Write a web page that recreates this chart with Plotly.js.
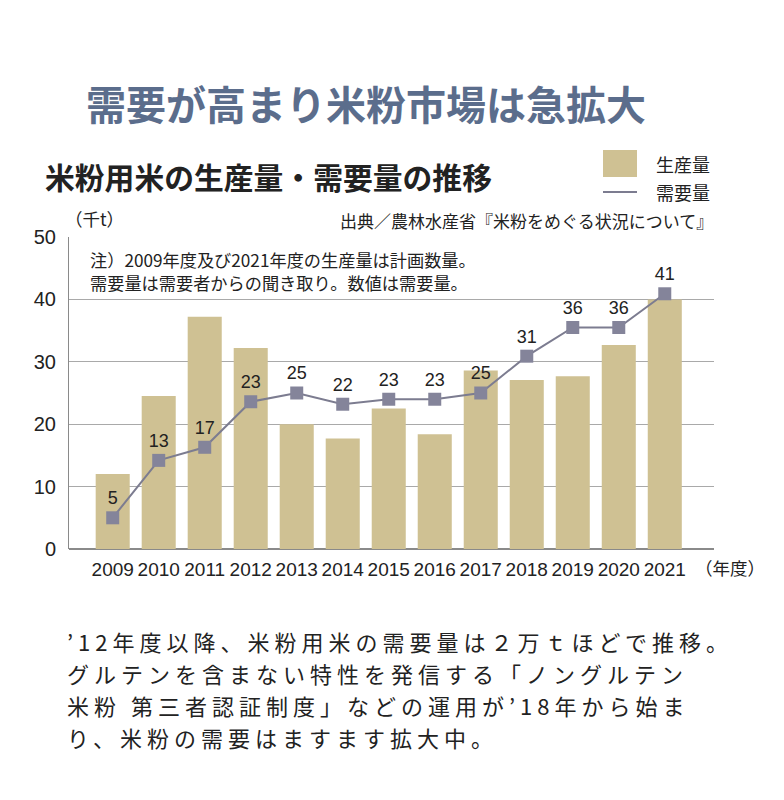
<!DOCTYPE html>
<html><head><meta charset="utf-8">
<script src="https://cdn.plot.ly/plotly-3.0.1.min.js"></script>
<style>body{margin:0;background:#fff}#c{width:784px;height:800px}</style>
</head><body><div id="c"></div>
<script>
const years = ['2009','2010','2011','2012','2013','2014','2015','2016','2017','2018','2019','2020','2021'];
const production = [12.0,24.5,37.2,32.2,20.0,17.7,22.5,18.4,28.6,27.1,27.7,32.7,40.0];
const demand = [5.0,14.2,16.3,23.6,25.0,23.2,24.0,24.0,25.0,30.9,35.5,35.5,40.9];
const demandLabels = ['5','13','17','23','25','22','23','23','25','31','36','36','41'];
const yTicks = [0,10,20,30,40,50];
const paragraphLines = [
 "’12年度以降、米粉用米の需要量は２万ｔほどで推移。",
 "グルテンを含まない特性を発信する「ノングルテン",
 "米粉 第三者認証制度」などの運用が’18年から始ま",
 "り、米粉の需要はますます拡大中。"
];

const W=784,H=800,L=69,R=714,T=237,B=549;
const px=x=>(x-L)/(R-L), py=y=>(B-y)/(B-T);
const jp='"Noto Sans CJK JP", sans-serif';
const num='"Liberation Sans Narrow","Liberation Sans",Arial,sans-serif';
const barColor='#cfc193', lineColor='#7c7c90', markColor='#84849a';

const traces=[
 {type:'bar',x:years,y:production,marker:{color:barColor},hoverinfo:'skip',showlegend:false},
 {type:'scatter',mode:'lines+markers+text',x:years,y:demand,text:demandLabels,textposition:'top center',
  textfont:{family:'"Liberation Sans",Arial,sans-serif',size:18,color:'#222'},
  line:{color:lineColor,width:2},marker:{symbol:'square',size:13,color:markColor},showlegend:false,cliponaxis:false}
];
function ann(x,y,text,size,opts){return Object.assign({xref:'paper',yref:'paper',x:px(x),y:py(y),text:text,showarrow:false,
 font:{family:jp,size:size,color:'#222'},xanchor:'left',yanchor:'middle'},opts||{});}
const paraText = paragraphLines.map(s=>'<span style="font-size:22px;letter-spacing:5px">'+s+'</span>').join('<br>');
const annotations=[
 ann(84,103,'<b>需要が高まり米粉市場は急拡大</b>',40,{font:{family:jp,size:40,color:'#5b6d8c'}}),
 ann(43,176,'<b>米粉用米の生産量・需要量の推移</b>',29.8),
 ann(654,164,'生産量',18),
 ann(654,192,'需要量',18),
 ann(63,218,'（千t）',17.5),
 ann(715,220,'出典／農林水産省『米粉をめぐる状況について』',17,{xanchor:'right'}),
 ann(88,259,'注）2009年度及び2021年度の生産量は計画数量。',17.2),
 ann(88,282,'需要量は需要者からの聞き取り。数値は需要量。',17.2),
 ann(693,567,'（年度）',17.5),
 ann(65,689,paraText,24.6,{align:'left'})
];
const shapes=[
 {type:'rect',xref:'paper',yref:'paper',x0:px(603),x1:px(637),y0:py(150),y1:py(177),fillcolor:barColor,line:{width:0}},
 {type:'line',xref:'paper',yref:'paper',x0:px(603),x1:px(637),y0:py(192),y1:py(192),line:{color:lineColor,width:2}}
];
const layout={width:W,height:H,margin:{l:L,r:W-R,t:T,b:H-B,pad:0},paper_bgcolor:'#fff',plot_bgcolor:'#fff',
 bargap:0.26,
 xaxis:{type:'category',range:[-0.95,13.07],showgrid:false,showline:false,zeroline:false,ticks:'',
   tickfont:{family:num,size:19,color:'#222'},ticklabelstandoff:7},
 yaxis:{range:[0,50],tickvals:yTicks,showgrid:true,gridcolor:'#a9a9a9',gridwidth:1,zeroline:true,zerolinecolor:'#8a8a8a',zerolinewidth:1.5,
   showline:true,linecolor:'#8a8a8a',linewidth:1,ticks:'',ticklabelstandoff:8,tickfont:{family:'"Liberation Sans",Arial,sans-serif',size:20,color:'#222'}},
 annotations:annotations,shapes:shapes,showlegend:false};
Plotly.newPlot('c',traces,layout,{displayModeBar:false,staticPlot:true});
</script></body></html>
